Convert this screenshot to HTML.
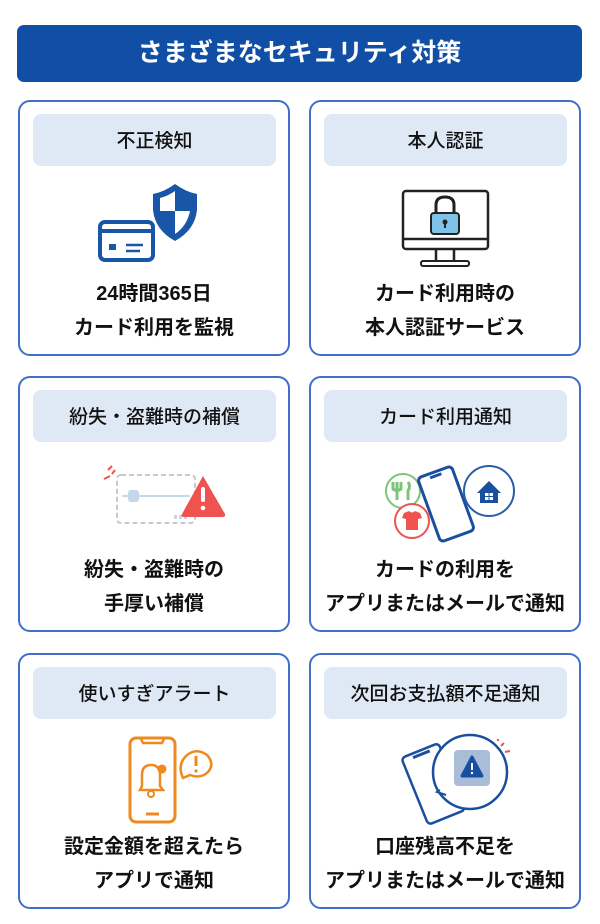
<!DOCTYPE html>
<html><head><meta charset="utf-8"><style>
*{margin:0;padding:0;box-sizing:border-box}
body{width:600px;height:924px;background:#fff;position:relative;overflow:hidden;font-family:"Liberation Sans","Noto Sans CJK JP",sans-serif;color:#111}
.hd{position:absolute;left:17px;top:25px;width:565px;height:57px;background:#114ea6;border-radius:7px;color:#fff;font-weight:bold;font-size:25px;text-align:center;line-height:57px}
.card{position:absolute;width:272px;height:256px;border:2px solid #3f6fc9;border-radius:12px}
.lb{position:absolute;left:13px;right:12px;top:12px;height:52px;background:#dfe9f6;border-radius:8px;text-align:center;line-height:55px;font-size:19px;font-weight:500}
.tx{position:absolute;left:-10px;right:-10px;top:175px;text-align:center;font-size:20px;font-weight:bold;line-height:34px}
svg{position:absolute;left:0;top:0}
</style></head><body>
<div class="hd">さまざまなセキュリティ対策</div>
<div class="card" style="left:18px;top:100px"><div class="lb">不正検知</div><div class="tx">24時間365日<br>カード利用を監視</div></div>
<div class="card" style="left:309px;top:100px"><div class="lb">本人認証</div><div class="tx">カード利用時の<br>本人認証サービス</div></div>
<div class="card" style="left:18px;top:376px"><div class="lb">紛失・盗難時の補償</div><div class="tx">紛失・盗難時の<br>手厚い補償</div></div>
<div class="card" style="left:309px;top:376px"><div class="lb">カード利用通知</div><div class="tx">カードの利用を<br>アプリまたはメールで通知</div></div>
<div class="card" style="left:18px;top:653px"><div class="lb">使いすぎアラート</div><div class="tx">設定金額を超えたら<br>アプリで通知</div></div>
<div class="card" style="left:309px;top:653px"><div class="lb">次回お支払額不足通知</div><div class="tx">口座残高不足を<br>アプリまたはメールで通知</div></div>
<svg width="600" height="924" viewBox="0 0 600 924">
<rect x="100" y="222" width="53" height="38" rx="5" fill="none" stroke="#1a56a8" stroke-width="4"/>
<line x1="100" y1="231" x2="153" y2="231" stroke="#1a56a8" stroke-width="4"/>
<rect x="109" y="244" width="7" height="6" fill="#1a56a8"/>
<line x1="126" y1="245" x2="143" y2="245" stroke="#1a56a8" stroke-width="2.5"/>
<line x1="126" y1="251" x2="140" y2="251" stroke="#1a56a8" stroke-width="2.5"/>
<path d="M175 184 Q186 192 197 194 L197 210 Q195 230 175 241 Q155 230 153 210 L153 194 Q164 192 175 184Z" fill="#1a56a8"/>
<path d="M175 191 Q168 196 160 198 L160 211 L175 211Z" fill="#fff"/>
<path d="M175 211 L190 211 Q187 226 175 234Z" fill="#fff"/>
<rect x="403" y="191" width="85" height="58" rx="3" fill="none" stroke="#222" stroke-width="2.5"/>
<line x1="403" y1="239" x2="488" y2="239" stroke="#222" stroke-width="2.5"/>
<path d="M436 249 L436 262 M454 249 L454 262" stroke="#222" stroke-width="2.5"/>
<rect x="421" y="261" width="48" height="5" rx="2" fill="none" stroke="#222" stroke-width="2"/>
<path d="M436 214 L436 205 Q436 197 445 197 Q454 197 454 205 L454 214" fill="none" stroke="#222" stroke-width="3"/>
<rect x="431" y="213" width="28" height="21" rx="3" fill="#7fc4e8" stroke="#222" stroke-width="2"/>
<circle cx="445" cy="222" r="2.5" fill="#222"/><line x1="445" y1="222" x2="445" y2="228" stroke="#222" stroke-width="2"/>
<rect x="117" y="475" width="78" height="48" rx="4" fill="none" stroke="#c8c8c8" stroke-width="2" stroke-dasharray="5 3"/>
<line x1="122" y1="496" x2="190" y2="496" stroke="#c5d8ea" stroke-width="2"/>
<rect x="128" y="490" width="11" height="12" rx="3" fill="#c5d8ea"/>
<path d="M174 517h3M179 517h3M184 517h3" stroke="#c5d8ea" stroke-width="4"/>
<path d="M104 479 L110 476 M108 470 L112 466 M112 474 L115 470" stroke="#ef5350" stroke-width="2"/>
<path d="M203 476 L225 514 Q226 517 222 517 L184 517 Q180 517 182 514Z" fill="#ef5350"/>
<rect x="201" y="487" width="4" height="15" rx="2" fill="#fff"/><circle cx="203" cy="508" r="2.3" fill="#fff"/>
<circle cx="403" cy="491" r="17" fill="#fff" stroke="#7cc576" stroke-width="2"/>
<path d="M397 482v18M401 482v7q-4 3-8 0v-7M408 482q3 4 0 9v9" stroke="#7cc576" stroke-width="3" fill="none"/>
<circle cx="412" cy="521" r="17" fill="#fff" stroke="#ef5350" stroke-width="2"/>
<path d="M404 513 L409 511 Q412 514 415 511 L420 513 L422 518 L418 519 L418 530 L406 530 L406 519 L402 518Z" fill="#ef5350"/>
<g transform="rotate(-20 446 504)"><rect x="428" y="470" width="36" height="68" rx="4" fill="#fff" stroke="#1a4fa0" stroke-width="3"/><line x1="440" y1="474" x2="452" y2="474" stroke="#1a4fa0" stroke-width="3"/></g>
<circle cx="489" cy="491" r="25" fill="#fff" stroke="#2a5ea8" stroke-width="2"/>
<path d="M477 493 L489 481 L501 493 L498 493 L498 503 L480 503 L480 493Z" fill="#1a4fa0"/>
<rect x="485" y="493" width="8" height="7" fill="#fff"/><line x1="489" y1="493" x2="489" y2="500" stroke="#1a4fa0"/><line x1="485" y1="496.5" x2="493" y2="496.5" stroke="#1a4fa0"/>
<rect x="130" y="738" width="45" height="84" rx="6" fill="none" stroke="#ee8a1f" stroke-width="3"/>
<path d="M141 739 L143 743 L162 743 L164 739" fill="none" stroke="#ee8a1f" stroke-width="2.5"/>
<line x1="146" y1="814" x2="159" y2="814" stroke="#ee8a1f" stroke-width="3"/>
<path d="M140 790 L142 786 L142 775 Q142 765 151 765 Q160 765 160 775 L160 786 L163 790Z" fill="none" stroke="#ee8a1f" stroke-width="2.5"/>
<circle cx="151" cy="794" r="3" fill="none" stroke="#ee8a1f" stroke-width="2"/>
<circle cx="162" cy="769" r="4.5" fill="#ee8a1f"/>
<path d="M183 778 Q177 765 186 756 Q196 747 207 755 Q215 764 208 772 Q201 779 190 775 Z" fill="none" stroke="#ee8a1f" stroke-width="2.5"/>
<line x1="196" y1="756" x2="196" y2="766" stroke="#ee8a1f" stroke-width="3"/><circle cx="196" cy="771" r="1.6" fill="#ee8a1f"/>
<g transform="rotate(-22 433 783)"><rect x="413" y="748" width="40" height="72" rx="4" fill="#fff" stroke="#1a4fa0" stroke-width="2.5"/><line x1="424" y1="752" x2="442" y2="752" stroke="#1a4fa0" stroke-width="3"/></g>
<circle cx="470" cy="772" r="37" fill="#fff" stroke="#1a4fa0" stroke-width="2.5"/>
<path d="M440 790 L437 792 L446 795" fill="#fff" stroke="#1a4fa0" stroke-width="2"/>
<rect x="454" y="750" width="36" height="36" rx="4" fill="#a9bcd8"/>
<path d="M472 757 L482 776 L462 776Z" fill="#1a4fa0" stroke="#1a4fa0" stroke-width="3" stroke-linejoin="round"/>
<line x1="472" y1="763" x2="472" y2="770" stroke="#fff" stroke-width="2"/><circle cx="472" cy="773" r="1.2" fill="#fff"/>
<path d="M501 746 L504 743 M505 752 L510 751 M498 741 L498 739" stroke="#ef5350" stroke-width="2"/>
</svg>
</body></html>
